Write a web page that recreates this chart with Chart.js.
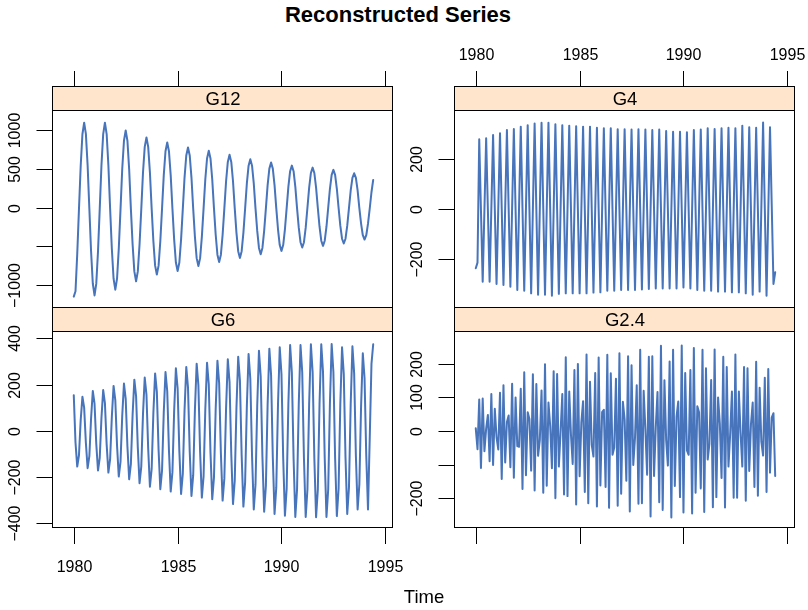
<!DOCTYPE html>
<html>
<head>
<meta charset="utf-8">
<title>Reconstructed Series</title>
<script src="https://cdn.jsdelivr.net/npm/chart.js@4.4.1/dist/chart.umd.min.js"></script>
<style>
  html, body { margin: 0; padding: 0; background: #fff; }
  #page { position: relative; width: 808px; height: 610px; overflow: hidden;
          font-family: "Liberation Sans", Arial, Helvetica, sans-serif; color: #000; }
  #page canvas { position: absolute; left: 0; top: 0; }
  #main { position: absolute; left: -6px; width: 808px; top: 4px; line-height: 22px;
          text-align: center; font-weight: bold; font-size: 22px; }
  #xlab { position: absolute; left: 324px; width: 200px; top: 588px; line-height: 18.5px;
          text-align: center; font-size: 18.5px; }
</style>
</head>
<body>
<div id="page">
  <div id="main">Reconstructed Series</div>
  <canvas id="pG12" width="808" height="610"></canvas>
  <canvas id="pG4" width="808" height="610"></canvas>
  <canvas id="pG6" width="808" height="610"></canvas>
  <canvas id="pG24" width="808" height="610"></canvas>
  <div id="xlab">Time</div>
</div>
<script>
// monthly series, Jan 1980 .. Jun 1994
const START_YEAR = 1980;
const FREQ = 12;

const G12 = [
  -1150, -1080, -600, -20, 540, 950, 1100, 955, 550, -10, -565, -980,
  -1134, -982, -567, -15, 550, 953, 1100, 953, 550, -10, -530, -918,
  -1060, -918, -530, -25, 500, 866, 1000, 866, 500, -15, -476, -824,
  -952, -824, -476, -20, 455, 787, 909, 787, 455, -10, -433, -749,
  -865, -749, -433, -10, 422, 731, 844, 731, 422, -10, -409, -708,
  -818, -708, -409, -15, 390, 675, 779, 675, 390, -10, -377, -652,
  -753, -652, -377, -8, 368, 637, 736, 637, 368, -5, -350, -607,
  -701, -607, -350, -8, 342, 592, 684, 592, 342, -5, -325, -562,
  -649, -562, -325, -10, 314, 544, 628, 544, 314, -8, -300, -520,
  -601, -520, -300, -8, 292, 506, 584, 506, 292, -5, -279, -483,
  -558, -483, -279, -5, 272, 472, 545, 472, 272, -5, -258, -446,
  -515, -446, -258, 0, 260, 449, 519, 449, 260, 0, -246, -427,
  -493, -427, -246, 0, 245, 424, 490, 424, 245, 0, -232, -401,
  -463, -401, -232, -5, 223, 386, 446, 386, 223, -5, -205, -356,
  -411, -356, -206, -10, 200, 360
];

const G4 = [
  -239, -216,
  281, -6, -293, -4,   285, -4, -293, 2,    298, -2, -302, 1,    305, 0, -306, 6,
  318, 2, -313, 4,     322, -2, -326, 3,   332, 1, -329, 4,     338, -1, -340, 2,
  345, 0, -346, 1,     348, 1, -346, 1,    348, -1, -350, -4,   342, 0, -342, -2,
  338, -1, -340, -2,   336, -2, -340, -3,  334, -3, -340, -4,   332, -4, -340, -4,
  332, -2, -337, -5,   327, -4, -336, -5,  325, -2, -329, -2,   325, -2, -329, -4,
  321, -2, -326, -2,   321, -2, -326, -3,  320, -3, -326, -2,   321, -1, -324, -2,
  320, -1, -322, -2,   318, -1, -320, 0,   320, 0, -320, -3,    314, -3, -320, -4,
  311, -4, -320, -4,   311, -2, -316, -3,  309, -5, -320, -1,   318, -4, -326, -3,
  320, -4, -329, -2,   325, -2, -329, -3,  322, -5, -333, -4,   325, -4, -333, -3,
  327, -4, -336, -5,   325, -5, -336, 0,   336, -2, -340, -5,   330, -8, -346, -9,
  327, -3, -333, 8,    349, 0, -350, -10,  330, 14, -302, -255
];

const G6 = [
  155, -50, -154, -105, 47, 148,
  101, -52, -161, -109, 55, 173,
  118, -55, -171, -116, 57, 177,
  120, -58, -180, -122, 62, 195,
  133, -63, -197, -134, 66, 205,
  139, -67, -209, -142, 71, 222,
  151, -72, -226, -154, 74, 231,
  157, -77, -241, -164, 80, 249,
  169, -81, -252, -171, 82, 255,
  173, -84, -262, -178, 87, 271,
  184, -87, -272, -185, 89, 277,
  188, -90, -281, -191, 93, 291,
  198, -92, -288, -196, 94, 295,
  201, -94, -295, -201, 97, 304,
  207, -96, -301, -205, 99, 310,
  211, -101, -316, -215, 103, 321,
  218, -105, -327, -222, 107, 333,
  226, -108, -339, -231, 111, 347,
  236, -112, -349, -237, 114, 356,
  242, -115, -359, -244, 116, 362,
  246, -117, -366, -249, 119, 372,
  253, -119, -372, -253, 119, 372,
  253, -119, -372, -253, 120, 375,
  255, -119, -373, -254, 120, 375,
  255, -119, -372, -253, 120, 376,
  256, -118, -368, -250, 116, 362,
  246, -115, -359, -244, 117, 366,
  249, -108, -339, -231, 108, 336,
  228, -108, -339, -30, 290, 375
];

const G2_4 = [
  8, -54, 94, -110, 97, -60, 7, 48, -90, 110, -101, 66,
  -18, -55, 114, -143, 136, -94, 27, 46, -108, 141, -139, 100,
  -45, -47, 126, -173, 175, -132, 56, 36, -118, 169, -177, 140,
  -74, -27, 121, -184, 199, -163, 85, 15, -111, 178, -200, 170,
  -106, -2, 110, -189, 220, -194, 118, -11, -98, 182, -219, 200,
  -135, 26, 89, -182, 228, -215, 147, -41, -76, 173, -225, 219,
  -162, 56, 63, -167, 227, -229, 172, -71, -49, 156, -223, 232,
  -187, 87, 35, -148, 223, -240, 196, -101, -20, 136, -217, 242,
  -215, 120, 5, -130, 221, -255, 223, -134, 11, 116, -212, 254,
  -235, 151, -27, -103, 207, -258, 242, -164, 43, 88, -197, 255,
  -243, 173, -58, -71, 182, -246, 247, -184, 74, 56, -171, 242,
  -241, 187, -85, -38, 152, -227, 243, -197, 100, 23, -140, 221,
  -228, 191, -106, -7, 118, -199, 228, -199, 118, -7, -106, 191,
  -208, 187, -119, 20, 85, -167, 206, -193, 129, -32, -73, 159,
  -182, 185, -124, 40, 53, -134
];

const YEAR_TICKS = [1980, 1985, 1990, 1995];
const G12_TICKS = [-1000, -500, 0, 500, 1000];
const G12_LABELS = ['\u22121000', '', '0', '500', '1000'];
const G4_TICKS = [-200, 0, 200];
const G4_LABELS = ['\u2212200', '0', '200'];
const G6_TICKS = [-400, -200, 0, 200, 400];
const G6_LABELS = ['\u2212400', '\u2212200', '0', '200', '400'];
const G2_4_TICKS = [-200, -100, 0, 100, 200];
const G2_4_LABELS = ['\u2212200', '', '0', '100', '200'];

const LINE_COL = '#4774ba';
const STRIP_BG = '#ffe5cc';
const FONT = '"Liberation Sans", Arial, Helvetica, sans-serif';
const TICK_LEN = 16;
const X_MIN = 1979.0, X_MAX = 1995.37;

const COLS = [{ left: 53, right: 393 }, { left: 455, right: 795 }];
const ROWS = [{ stripTop: 87, top: 111, bottom: 308 }, { stripTop: 308, top: 332, bottom: 528 }];

const crisp = v => Math.round(v) + 0.5;

// strip, box, ticks and labels around one lattice panel
function latticeFrame(p) {
  return {
    id: 'latticeFrame',
    afterDraw(chart) {
      const { ctx, chartArea: a } = chart;
      const xs = chart.scales.x, ys = chart.scales.y;
      const l = crisp(a.left) - 1, r = crisp(a.right) - 1;
      ctx.save();
      ctx.lineWidth = 1;
      ctx.strokeStyle = '#000';
      ctx.fillStyle = STRIP_BG;
      ctx.fillRect(l, p.row.stripTop, r - l, a.top - p.row.stripTop);
      ctx.strokeRect(l, crisp(p.row.stripTop) - 1, r - l, a.top - p.row.stripTop);
      ctx.strokeRect(l, crisp(a.top) - 1, r - l, a.bottom - a.top);

      ctx.fillStyle = '#000';
      ctx.textAlign = 'center';
      ctx.textBaseline = 'middle';
      ctx.font = '18.5px ' + FONT;
      ctx.fillText(p.name, (a.left + a.right) / 2, (p.row.stripTop + a.top) / 2 + 1);

      ctx.font = '16px ' + FONT;
      p.yTicks.forEach((v, i) => {
        const py = crisp(ys.getPixelForValue(v));
        ctx.beginPath();
        ctx.moveTo(l - TICK_LEN, py);
        ctx.lineTo(l, py);
        ctx.stroke();
        if (p.yLabels[i]) {
          ctx.save();
          ctx.translate(l - 37, py);
          ctx.rotate(-Math.PI / 2);
          ctx.fillText(p.yLabels[i], 0, 0);
          ctx.restore();
        }
      });

      YEAR_TICKS.forEach(yr => {
        const px = crisp(xs.getPixelForValue(yr));
        ctx.beginPath();
        if (p.xSide === 'top') {
          ctx.moveTo(px, p.row.stripTop);
          ctx.lineTo(px, p.row.stripTop - TICK_LEN);
        } else {
          ctx.moveTo(px, a.bottom);
          ctx.lineTo(px, a.bottom + TICK_LEN);
        }
        ctx.stroke();
        if (p.xLabels) {
          ctx.fillText(String(yr), px, p.xSide === 'top' ? 56 : 568);
        }
      });
      ctx.restore();
    }
  };
}

function makePanel(p) {
  const pts = p.values.map((v, i) => ({ x: START_YEAR + i / FREQ, y: v }));
  return new Chart(document.getElementById(p.id), {
    type: 'line',
    data: {
      datasets: [{
        data: pts,
        borderColor: LINE_COL,
        borderWidth: 2,
        borderJoinStyle: 'round',
        borderCapStyle: 'round',
        pointRadius: 0,
        tension: 0,
        fill: false
      }]
    },
    options: {
      responsive: false,
      animation: false,
      events: [],
      layout: {
        padding: { left: p.col.left, right: 808 - p.col.right, top: p.row.top, bottom: 610 - p.row.bottom }
      },
      plugins: { legend: { display: false }, tooltip: { enabled: false }, title: { display: false } },
      scales: {
        x: { type: 'linear', display: false, min: X_MIN, max: X_MAX },
        y: { type: 'linear', display: false, min: p.ymin, max: p.ymax }
      }
    },
    plugins: [latticeFrame(p)]
  });
}

makePanel({ id: 'pG12', name: 'G12', values: G12, col: COLS[0], row: ROWS[0],
  ymin: -1297, ymax: 1251, yTicks: G12_TICKS, yLabels: G12_LABELS, xSide: 'top', xLabels: false });
makePanel({ id: 'pG4', name: 'G4', values: G4, col: COLS[1], row: ROWS[0],
  ymin: -399, ymax: 395, yTicks: G4_TICKS, yLabels: G4_LABELS, xSide: 'top', xLabels: true });
makePanel({ id: 'pG6', name: 'G6', values: G6, col: COLS[0], row: ROWS[1],
  ymin: -419.5, ymax: 428, yTicks: G6_TICKS, yLabels: G6_LABELS, xSide: 'bottom', xLabels: true });
makePanel({ id: 'pG24', name: 'G2.4', values: G2_4, col: COLS[1], row: ROWS[1],
  ymin: -289, ymax: 295, yTicks: G2_4_TICKS, yLabels: G2_4_LABELS, xSide: 'bottom', xLabels: false });
</script>
</body>
</html>
